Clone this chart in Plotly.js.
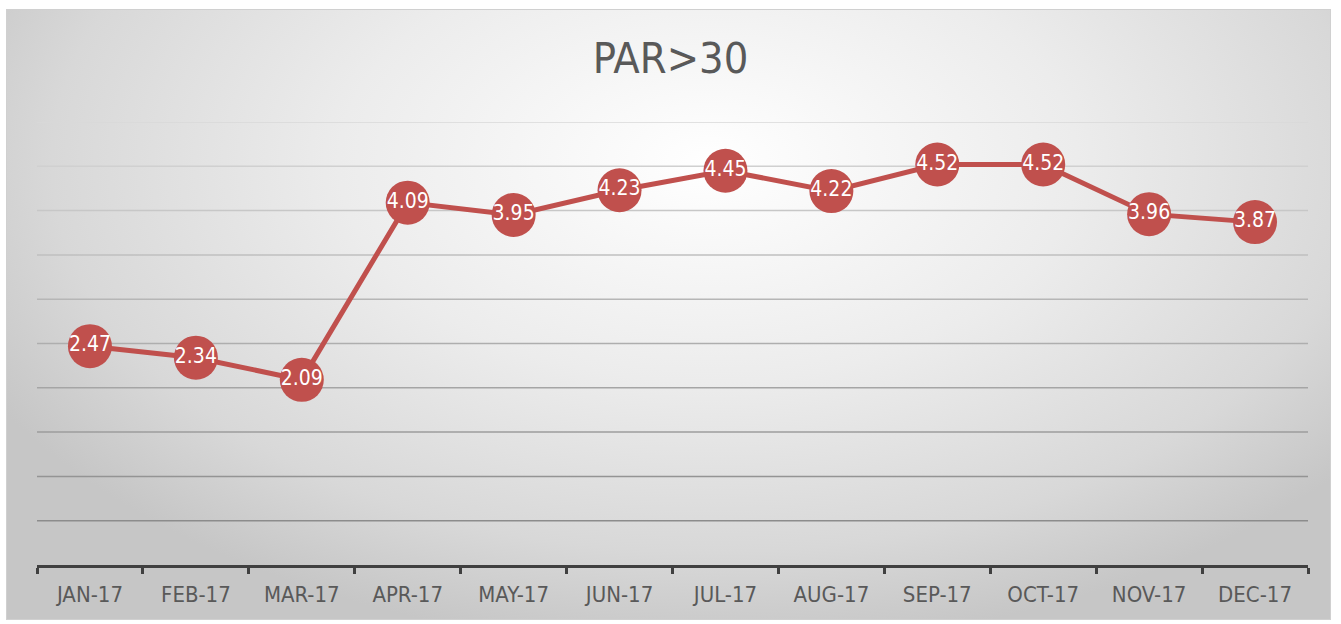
<!DOCTYPE html>
<html>
<head>
<meta charset="utf-8">
<script src="https://cdn.plot.ly/plotly-3.0.1.min.js"></script>
<style>
  html, body { margin: 0; padding: 0; background: #ffffff; }
  #wrap { position: relative; width: 1341px; height: 624px; overflow: hidden; }
  #bg { position: absolute; left: 6px; top: 9px; width: 1325px; height: 611px;
        border: 1px solid #d0d0d0; box-sizing: border-box;
        background: radial-gradient(ellipse 62% 80% at 53% 25%, #ffffff 0%, #ececec 45%, #d8d8d8 80%, #c6c6c6 100%); }
  #chart { position: absolute; left: 0; top: 0; width: 1341px; height: 624px; }
</style>
</head>
<body>
<div id="wrap">
  <div id="bg"></div>
  <div id="chart"></div>
</div>
<script>
const months = ["JAN-17","FEB-17","MAR-17","APR-17","MAY-17","JUN-17","JUL-17","AUG-17","SEP-17","OCT-17","NOV-17","DEC-17"];
const par30 = [2.47, 2.34, 2.09, 4.09, 3.95, 4.23, 4.45, 4.22, 4.52, 4.52, 3.96, 3.87];
const gridValues = [0.5, 1, 1.5, 2, 2.5, 3, 3.5, 4, 4.5, 5];

const FONT = '"Liberation Sans Narrow", "Arial Narrow", "DejaVu Sans Condensed", sans-serif';

const trace = {
  x: months,
  y: par30,
  type: 'scatter',
  mode: 'lines+markers+text',
  line: { color: '#C0504D', width: 5 },
  marker: { color: '#C0504D', size: 44 },
  text: par30.map(v => v.toFixed(2)),
  textposition: 'middle center',
  textfont: { family: FONT, size: 21, color: '#ffffff' },
  cliponaxis: false,
  hoverinfo: 'x+y'
};

// gridlines fade from mid grey at the bottom to near-background at the top
const shapes = gridValues.map((v, i) => {
  const t = i / (gridValues.length - 1);
  const g = Math.round(140 + t * (216 - 140));
  return {
    type: 'line', xref: 'paper', yref: 'y', x0: 0, x1: 1, y0: v, y1: v,
    layer: 'below', line: { color: `rgb(${g},${g},${g})`, width: 1.5 }
  };
});

const layout = {
  width: 1341,
  height: 624,
  margin: { l: 37, r: 33, t: 122, b: 59, pad: 0 },
  paper_bgcolor: 'rgba(0,0,0,0)',
  plot_bgcolor: 'rgba(0,0,0,0)',
  showlegend: false,
  shapes: shapes,
  title: {
    text: 'PAR>30',
    font: { family: FONT, size: 43, color: '#595959' },
    x: 0.5, xanchor: 'center',
    y: 1 - 58/624, yanchor: 'middle', yref: 'container'
  },
  xaxis: {
    type: 'category',
    range: [-0.5, 11.5],
    showline: true, linecolor: '#404040', linewidth: 3,
    showgrid: false, zeroline: false,
    ticks: 'outside', tickson: 'boundaries', ticklen: 6, tickwidth: 3, tickcolor: '#404040',
    tickfont: { family: FONT, size: 22, color: '#595959' },
    ticklabelstandoff: 8,
    fixedrange: true
  },
  yaxis: {
    range: [0, 5],
    showticklabels: false,
    showgrid: false,
    zeroline: false, showline: false, ticks: '',
    fixedrange: true
  }
};

Plotly.newPlot('chart', [trace], layout, { displayModeBar: false, staticPlot: true });
</script>
</body>
</html>
